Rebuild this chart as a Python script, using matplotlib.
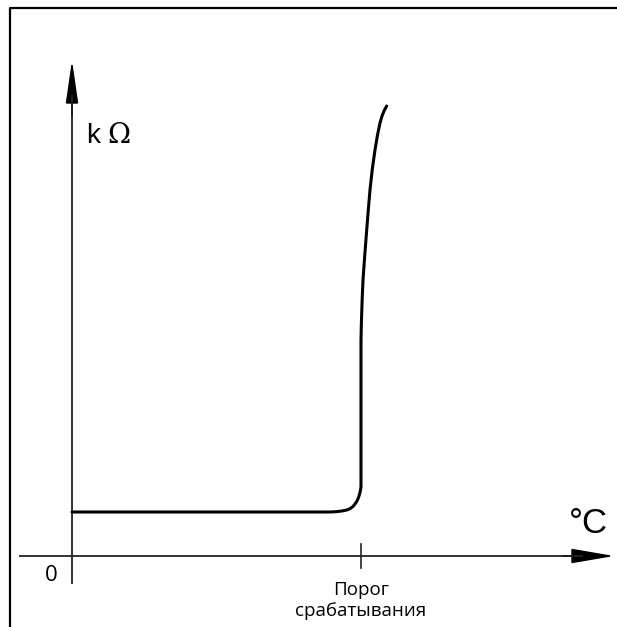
import numpy as np
import matplotlib.pyplot as plt

# кривая сопротивления (условные единицы, начало координат в точке 0)
temp = [0, 258, 264, 270, 274.7, 278, 281, 283, 285, 286.5, 287.6, 288.4, 289,
        289, 289.3, 289.7, 290.3, 291, 292.7, 294.7, 296.3, 298, 300.3, 303,
        305.5, 308, 310, 312, 314.7]
res = [44, 44, 44.3, 45, 46, 47.3, 49.5, 52, 55, 58.5, 62, 65.5, 69,
       216, 230, 243, 260, 276, 300, 326, 346, 366, 387, 406,
       421, 433, 440, 445, 450]
threshold = 289
y_label = ['k', 'Ω']
x_label = '°C'
thr_label = 'Порог\nсрабатывания'

fig = plt.figure(figsize=(6.17, 6.27), dpi=100)
ax = fig.add_axes([0, 0, 1, 1])
ax.set_xlim(-72, 545)
ax.set_ylim(-71, 556)
ax.axis('off')

# рамка
ax.plot([-62.5, -62.5, 545], [-71, 548.5, 548.5], color='black', lw=1.6,
        solid_capstyle='butt')

# оси
ax.plot([0, 0], [-27, 460], color='#222222', lw=1.3)
ax.arrow(0, 440, 0, 51, width=0.1, head_width=11, head_length=38,
         length_includes_head=True, color='black')
ax.plot([-52, 510], [0, 0], color='#222222', lw=1.3)
ax.arrow(490, 0, 48, 0, width=0.1, head_width=13, head_length=38,
         length_includes_head=True, color='black')

# отметка порога
ax.plot([threshold, threshold], [-12, 12], color='#222222', lw=1.2)

ax.plot(temp, res, color='black', lw=2.2, solid_capstyle='round',
        solid_joinstyle='round')

ax.text(14, 413, y_label[0], fontsize=20, family='Liberation Sans',
        ha='left', va='baseline')
ax.text(35, 413, y_label[1], fontsize=20, family='DejaVu Serif',
        ha='left', va='baseline')
ax.text(497, 23, x_label, fontsize=25, family='Liberation Sans',
        ha='left', va='baseline')
ax.text(-14, -25, '0', fontsize=16, family='Open Sans',
        ha='right', va='baseline')
ax.text(threshold, -25, thr_label, fontsize=13.5, family='Open Sans',
        ha='center', va='top', linespacing=1.25)

fig.savefig('out.png', dpi=100)
